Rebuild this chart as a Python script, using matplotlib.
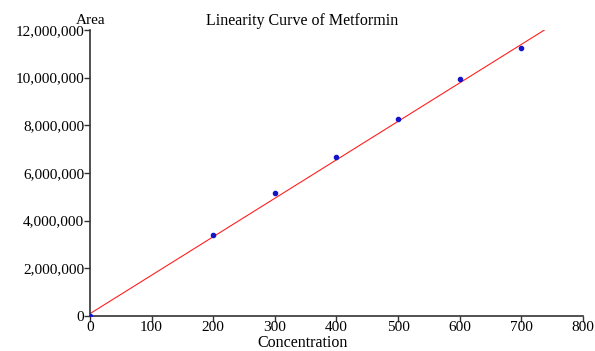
import matplotlib
matplotlib.use('Agg')
import matplotlib.pyplot as plt
from matplotlib.ticker import FuncFormatter
import numpy as np

concentration = [0, 200, 300, 400, 500, 600, 700]
area = [0, 3380000, 5150000, 6680000, 8270000, 9940000, 11220000]
fit_range = [0, 740]

plt.rcParams['font.family'] = ['Liberation Serif', 'DejaVu Serif']

fig = plt.figure(figsize=(5.95, 3.51), dpi=100, facecolor='w')
ax = fig.add_axes([0.151, 0.1, 0.829, 0.815])

slope, intercept = np.polyfit(concentration, area, 1)
fx = np.array(fit_range)
ax.plot(fx, slope * fx + intercept * 0.6, color='#ff2020', linewidth=0.8, zorder=2)
ax.scatter(concentration, area, s=9, color='#1414c8', zorder=3)

ax.set_xlim(0, 800)
ax.set_ylim(0, 12000000)
ax.set_xticks(range(0, 801, 100))
ax.set_yticks(range(0, 12000001, 2000000))
ax.yaxis.set_major_formatter(FuncFormatter(lambda v, p: '{:,.0f}'.format(v)))

for s in ['top', 'right']:
    ax.spines[s].set_visible(False)
for s in ['left', 'bottom']:
    ax.spines[s].set_color('#333333')
    ax.spines[s].set_linewidth(1.2)
ax.tick_params(direction='out', length=4, width=1, colors='#333333', labelsize=11, labelcolor='black', pad=0)

fig.text(0.508, 0.012, 'Concentration', ha='center', va='baseline', fontsize=11.5)
fig.text(0.153, 0.922, 'Area', ha='center', va='bottom', fontsize=11)
fig.text(0.508, 0.918, 'Linearity Curve of Metformin', ha='center', va='bottom', fontsize=11.5)

plt.savefig('out.png', dpi=100)
